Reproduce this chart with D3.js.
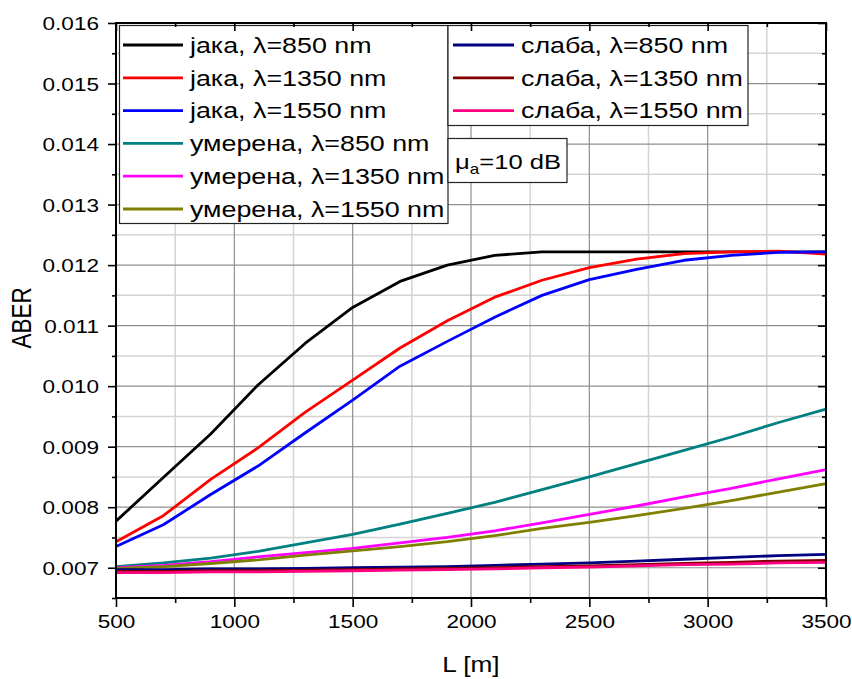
<!DOCTYPE html>
<html><head><meta charset="utf-8">
<script src="https://cdn.jsdelivr.net/npm/d3@7"></script>
<style>
html,body{margin:0;padding:0;background:#fff;}
text{font-family:"Liberation Sans",Arial,sans-serif;fill:#000;}
</style></head>
<body><svg id="c" width="852" height="679"></svg>
<script>
// ---------- data ----------
const L = [500,700,900,1100,1300,1500,1700,1900,2100,2300,2500,2700,2900,3100,3300,3500];
const jaka850   = [0.00777,0.00849,0.00921,0.01002,0.01071,0.01130,0.01173,0.01200,0.01216,0.01222,0.01222,0.01222,0.01222,0.01222,0.01222,0.01222];
const jaka1350  = [0.00743,0.00786,0.00846,0.00898,0.00957,0.01010,0.01063,0.01108,0.01147,0.01175,0.01196,0.01210,0.01219,0.01222,0.01223,0.01218];
const jaka1550  = [0.00735,0.00771,0.00821,0.00868,0.00923,0.00977,0.01033,0.01074,0.01114,0.01150,0.01176,0.01193,0.01208,0.01216,0.01221,0.01222];
const umer850   = [0.00702,0.00708,0.00716,0.00727,0.00741,0.00755,0.00772,0.00790,0.00808,0.00829,0.00850,0.00872,0.00894,0.00916,0.00940,0.00962];
const umer1350  = [0.00700,0.00704,0.00710,0.00718,0.00725,0.00732,0.00741,0.00750,0.00761,0.00774,0.00788,0.00802,0.00817,0.00831,0.00847,0.00862];
const umer1550  = [0.00699,0.00702,0.00707,0.00713,0.00721,0.00728,0.00735,0.00743,0.00753,0.00765,0.00775,0.00786,0.00798,0.00811,0.00825,0.00839];
const slab850   = [0.00697,0.00697,0.00698,0.00698,0.00699,0.00700,0.00701,0.00702,0.00704,0.00706,0.00708,0.00711,0.00714,0.00717,0.00720,0.00722];
const slab1350  = [0.00694,0.00694,0.00695,0.00695,0.00696,0.00697,0.00698,0.00699,0.00700,0.00702,0.00703,0.00705,0.00707,0.00709,0.00711,0.00712];
const slab1550  = [0.00692,0.00692,0.00693,0.00693,0.00694,0.00695,0.00696,0.00697,0.00698,0.00700,0.00701,0.00703,0.00705,0.00706,0.00708,0.00709];

const seriesNames = ["јака, λ=850 nm","јака, λ=1350 nm","јака, λ=1550 nm","умерена, λ=850 nm","умерена, λ=1350 nm","умерена, λ=1550 nm","слаба, λ=850 nm","слаба, λ=1350 nm","слаба, λ=1550 nm"];
const seriesValues = [jaka850,jaka1350,jaka1550,umer850,umer1350,umer1550,slab850,slab1350,slab1550];
const seriesColors = ["#000000","#ff0000","#0000ff","#008080","#ff00ff","#808000","#000080","#800000","#ff0080"];

const xTicks = [500,1000,1500,2000,2500,3000,3500];
const xMinor = [750,1250,1750,2250,2750,3250];
const yTicks = [0.007,0.008,0.009,0.010,0.011,0.012,0.013,0.014,0.015,0.016];
const yMinor = [0.0065,0.0075,0.0085,0.0095,0.0105,0.0115,0.0125,0.0135,0.0145,0.0155];

// ---------- layout ----------
const X0=116, X1=826, Y0=23, Y1=598, SX=1.22;
const svg = d3.select("#c");
const x = d3.scaleLinear().domain([500,3500]).range([X0,X1]);
const y = d3.scaleLinear().domain([0.0065,0.016]).range([Y1,Y0]);

function stext(g, tx, ty, str, size, anchor){
  return g.append("text").attr("transform",`translate(${tx},${ty}) scale(${SX},1)`)
    .attr("font-size",size).attr("text-anchor",anchor||"start").text(str);
}

// grid
const grid = svg.append("g");
grid.selectAll(".gmx").data(xMinor).join("line")
  .attr("x1",d=>x(d)).attr("x2",d=>x(d)).attr("y1",Y0).attr("y2",Y1)
  .attr("stroke","#d4d4d4").attr("stroke-width",1.5);
grid.selectAll(".gmy").data(yMinor).join("line")
  .attr("y1",d=>y(d)).attr("y2",d=>y(d)).attr("x1",X0).attr("x2",X1)
  .attr("stroke","#d4d4d4").attr("stroke-width",1.5);
grid.selectAll(".gx").data(xTicks).join("line")
  .attr("x1",d=>x(d)).attr("x2",d=>x(d)).attr("y1",Y0).attr("y2",Y1)
  .attr("stroke","#8f8f8f").attr("stroke-width",1.2);
grid.selectAll(".gy").data(yTicks).join("line")
  .attr("y1",d=>y(d)).attr("y2",d=>y(d)).attr("x1",X0).attr("x2",X1)
  .attr("stroke","#8f8f8f").attr("stroke-width",1.2);

// lines
const line = d3.line().x((d,i)=>x(L[i])).y(d=>y(d));
svg.append("g").selectAll("path").data(seriesValues).join("path")
  .attr("d",d=>line(d)).attr("fill","none")
  .attr("stroke",(d,i)=>seriesColors[i]).attr("stroke-width",2.8)
  .attr("stroke-linejoin","round");

// legends
function legend(items, bx, by, bw, bh, sx1, sx2, tx){
  const g = svg.append("g");
  g.append("rect").attr("x",bx).attr("y",by).attr("width",bw).attr("height",bh)
    .attr("fill","#fff").attr("stroke","#222").attr("stroke-width",1.2);
  items.forEach((k,j)=>{
    const yy = 45 + 32.8*j;
    g.append("line").attr("x1",sx1).attr("x2",sx2).attr("y1",yy).attr("y2",yy)
      .attr("stroke",seriesColors[k]).attr("stroke-width",2.8);
    stext(g, tx, yy+7.8, seriesNames[k], 22);
  });
}
legend([0,1,2,3,4,5], 119.5, 25.5, 328.5, 198, 123, 183, 190);
legend([6,7,8], 448, 25.5, 300, 100, 453, 514, 521);

// annotation
const ann = svg.append("g");
ann.append("rect").attr("x",448).attr("y",138.5).attr("width",119).attr("height",44)
  .attr("fill","#fff").attr("stroke","#222").attr("stroke-width",1.2);
const at = ann.append("text").attr("transform",`translate(455,169) scale(${SX},1)`).attr("font-size",21);
at.append("tspan").text("μ");
at.append("tspan").attr("font-size",14).attr("dy",5).text("a");
at.append("tspan").attr("dy",-5).text("=10 dB");

// axes
function styleAx(g){ g.select(".domain").remove(); g.selectAll("line").attr("stroke","#000").attr("stroke-width",1.6); }
const ax = svg.append("g");
const gl = ax.append("g").attr("transform",`translate(${X0},0)`)
  .call(d3.axisLeft(y).tickValues(yTicks).tickSize(8).tickPadding(5).tickFormat(d3.format(".3f")));
styleAx(gl);
gl.selectAll("text").attr("font-size",18.5).attr("font-family","Liberation Sans, Arial, sans-serif")
  .attr("transform",`scale(${SX},1)`).attr("x",-17/SX).attr("dy","0.36em");
styleAx(ax.append("g").attr("transform",`translate(${X0},0)`)
  .call(d3.axisLeft(y).tickValues(yMinor).tickSize(4).tickFormat("")));
const gb = ax.append("g").attr("transform",`translate(0,${Y1})`)
  .call(d3.axisBottom(x).tickValues(xTicks).tickSize(9).tickPadding(7).tickFormat(d3.format("d")));
styleAx(gb);
gb.selectAll("text").attr("font-size",18.5).attr("font-family","Liberation Sans, Arial, sans-serif")
  .attr("transform",`scale(${SX},1)`).attr("dy","0.75em");
styleAx(ax.append("g").attr("transform",`translate(0,${Y1})`)
  .call(d3.axisBottom(x).tickValues(xMinor).tickSize(5).tickFormat("")));
// right (inward)
styleAx(ax.append("g").attr("transform",`translate(${X1},0)`)
  .call(d3.axisLeft(y).tickValues(yTicks).tickSize(8).tickFormat("")));
styleAx(ax.append("g").attr("transform",`translate(${X1},0)`)
  .call(d3.axisLeft(y).tickValues(yMinor).tickSize(4).tickFormat("")));
// top (inward)
styleAx(ax.append("g").attr("transform",`translate(0,${Y0})`)
  .call(d3.axisBottom(x).tickValues(xTicks).tickSize(8).tickFormat("")));
styleAx(ax.append("g").attr("transform",`translate(0,${Y0})`)
  .call(d3.axisBottom(x).tickValues(xMinor).tickSize(4).tickFormat("")));
// frame
ax.append("rect").attr("x",X0).attr("y",Y0).attr("width",X1-X0).attr("height",Y1-Y0)
  .attr("fill","none").attr("stroke","#000").attr("stroke-width",2);

// titles
svg.append("text").attr("transform","translate(31,318) rotate(-90) scale(1,1.22)")
  .attr("font-size",22.5).attr("text-anchor","middle").text("ABER");
stext(svg, 471, 672, "L [m]", 21.5, "middle");
</script></body></html>
